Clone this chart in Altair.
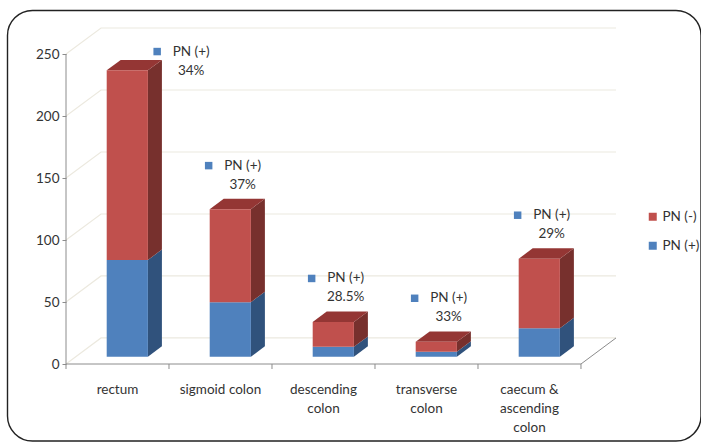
import altair as alt
import pandas as pd

# Tumour site and pathological node status counts
categories = ["rectum", "sigmoid colon", "descending\ncolon", "transverse\ncolon", "caecum &\nascending\ncolon"]
pn_pos = [78, 44, 8, 4, 23]      # PN (+)
pn_neg = [153, 75, 20, 8, 56]    # PN (-)
pct_labels = ["34%", "37%", "28.5%", "33%", "29%"]
y_ticks = [0, 50, 100, 150, 200, 250]

FONT = "Lato"
RED, RED_SIDE, RED_TOP = "#C0504D", "#77302D", "#943634"
BLUE, BLUE_SIDE = "#4F81BD", "#30527C"
GRID = "#ECE9DF"
AXIS = "#8C8C8C"
TEXT = "#333333"

# pseudo-3D geometry (in data units)
DEPTH_X, DEPTH_Y = 0.34, 21.0          # full floor depth
FRONT = 0.28                            # bar front face depth fraction
BAR_D = 0.40                            # bar depth fraction
BAR_W = 0.40
fx, fy = FRONT * DEPTH_X, FRONT * DEPTH_Y
dx, dy = BAR_D * DEPTH_X, BAR_D * DEPTH_Y
X_MAX, Y_MAX = 5 + DEPTH_X, 271
W, H = 550, 336

fronts, sides, tops, labels = [], [], [], []
for i, (cat, p, n, pct) in enumerate(zip(categories, pn_pos, pn_neg, pct_labels)):
    xl = i + 0.5 - BAR_W / 2 + fx
    xr = xl + BAR_W
    segs = [("PN (+)", 0, p, BLUE_SIDE), ("PN (-)", p, p + n, RED_SIDE)]
    for s, b, t, side_col in segs:
        key = f"{i}-{s}"
        fronts.append({"x": xl, "x2": xr, "y": b + fy, "y2": t + fy, "series": s})
        sides.append({"key": key, "x": xr, "y": b + fy, "y2": t + fy, "shade": side_col})
        sides.append({"key": key, "x": xr + dx, "y": b + fy + dy, "y2": t + fy + dy, "shade": side_col})
    top = p + n + fy
    tops.append({"key": str(i), "y": top, "x": xl, "x2": xr, "shade": RED_TOP})
    tops.append({"key": str(i), "y": top + dy, "x": xl + dx, "x2": xr + dx, "shade": RED_TOP})
    ly = p + n + 41
    shift = 0.12
    if ly > 252:
        ly, shift = 252, 0.62
    labels.append({"x": i + 0.5 + fx + shift, "y": ly, "pct": pct, "tag": "PN (+)"})

fronts = pd.DataFrame(fronts)
sides = pd.DataFrame(sides)
tops = pd.DataFrame(tops)
labels = pd.DataFrame(labels)

grid = pd.DataFrame(
    [{"level": v, "order": 0, "x": 0, "y": v} for v in y_ticks]
    + [{"level": v, "order": 1, "x": DEPTH_X, "y": v + DEPTH_Y} for v in y_ticks]
    + [{"level": v, "order": 2, "x": X_MAX, "y": v + DEPTH_Y} for v in y_ticks]
)
floor_edge = pd.DataFrame({"x": [0, 5, X_MAX], "y": [0, 0, DEPTH_Y]})
cats = pd.DataFrame({"x": [i + 0.5 for i in range(5)], "y": [0] * 5, "label": categories})
ticks = pd.DataFrame({"x": [0, 1, 2, 3, 4, 5], "y": [0] * 6})

# outer frame, expressed in the same data units as the plot
px_x = X_MAX / W
px_y = Y_MAX / H
frame = pd.DataFrame({"x": [-58.5 * px_x], "x2": [635 * px_x],
                      "y": [Y_MAX + 17.5 * px_y], "y2": [Y_MAX - 413 * px_y]})

xs = alt.Scale(domain=[0, X_MAX], nice=False, zero=False)
ys = alt.Scale(domain=[0, Y_MAX], nice=False, zero=False)
y_axis_def = alt.Axis(
    values=y_ticks, domain=False, grid=False, tickSize=4, tickColor=AXIS,
    labelFont=FONT, labelFontSize=13.5, labelColor=TEXT, labelPadding=3, title=None,
    zindex=1)


def X(f="x"):
    return alt.X(f"{f}:Q", scale=xs, axis=None)


def Y(f="y"):
    return alt.Y(f"{f}:Q", scale=ys, axis=y_axis_def)


border = alt.Chart(frame).mark_rect(
    fill="white", fillOpacity=0, stroke="#222222", strokeWidth=1.4, cornerRadius=25
).encode(x=X(), x2="x2:Q", y=Y(), y2="y2:Q")

grid_lines = alt.Chart(grid).mark_line(color=GRID, strokeWidth=1.2).encode(
    x=X(), y=Y(), detail="level:N", order="order:Q"
)

y_line = alt.Chart(pd.DataFrame({"x": [0], "y": [0], "y2": [250]})).mark_rule(
    color=AXIS, strokeWidth=1).encode(x=X(), y=Y(), y2="y2:Q")
floor = alt.Chart(floor_edge).mark_line(color=AXIS, strokeWidth=1).encode(x=X(), y=Y())
x_ticks = alt.Chart(ticks).mark_rule(color=AXIS, strokeWidth=1).encode(
    x=X(), y=Y(), y2=alt.value(H + 5))

side_faces = alt.Chart(sides).mark_area(opacity=1).encode(
    x=X(), y=Y(), y2="y2:Q", detail="key:N", fill=alt.Fill("shade:N", scale=None)
)
top_faces = alt.Chart(tops).mark_area(orient="horizontal", opacity=1).encode(
    y=Y(), x=X(), x2="x2:Q", detail="key:N", fill=alt.Fill("shade:N", scale=None)
)
front_faces = alt.Chart(fronts).mark_rect().encode(
    x=X(), x2="x2:Q", y=Y(), y2="y2:Q",
    color=alt.Color("series:N",
                    scale=alt.Scale(domain=["PN (-)", "PN (+)"], range=[RED, BLUE]),
                    legend=alt.Legend(title=None, orient="none", legendX=580, legendY=182,
                                      symbolType="square", symbolSize=64, symbolStrokeWidth=0,
                                      labelFont=FONT, labelFontSize=13.5, labelColor=TEXT,
                                      rowPadding=14, labelOffset=3))
)

cat_text = alt.Chart(cats).mark_text(
    font=FONT, fontSize=13.5, color=TEXT, baseline="top", lineBreak="\n", lineHeight=19, dy=19
).encode(x=X(), y=Y(), text="label:N")

lab_sq = alt.Chart(labels).mark_point(
    shape="square", filled=True, size=56, color=BLUE, opacity=1, xOffset=-34
).encode(x=X(), y=Y())
lab_tag = alt.Chart(labels).mark_text(
    font=FONT, fontSize=13.5, color=TEXT
).encode(x=X(), y=Y(), text="tag:N")
lab_pct = alt.Chart(labels).mark_text(
    font=FONT, fontSize=13.5, color=TEXT, dy=19
).encode(x=X(), y=Y(), text="pct:N")

chart = alt.layer(
    border, grid_lines, y_line, floor, x_ticks,
    side_faces, top_faces, front_faces,
    cat_text, lab_sq, lab_tag, lab_pct
).properties(
    width=W, height=H,
    autosize=alt.AutoSizeParams(type="none"),
    padding={"left": 66, "top": 28, "right": 85, "bottom": 79},
    background="white"
).configure_view(stroke=None)

chart.save("out.html", embed_options={"renderer": "svg", "actions": False})
